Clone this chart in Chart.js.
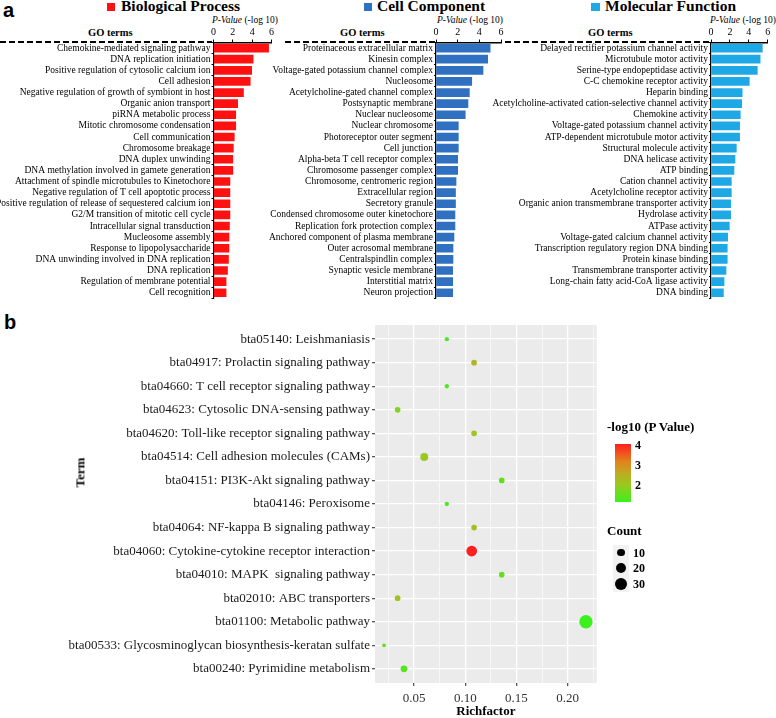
<!DOCTYPE html>
<html lang="en">
<head>
<meta charset="UTF-8">
<title>GO and KEGG enrichment</title>
<script src="https://cdn.jsdelivr.net/npm/chart.js"></script>
<style>
  body { margin:0; width:776px; height:718px; position:relative; background:#fff; overflow:hidden; font-family:"Liberation Serif", serif; color:#000; }
  canvas, .t, .sq, .dash, .bar, .key { position:absolute; }
  .t { white-space:nowrap; line-height:1; }
  .panel { font-family:"Liberation Sans", sans-serif; font-weight:bold; font-size:20px; }
  .head { font-weight:bold; font-size:15.5px; }
  .go { font-weight:bold; font-size:10.5px; }
  .pv { font-size:9.5px; }
  .dash { height:2px; background:repeating-linear-gradient(to right, #000 0 6px, transparent 6px 9px); }
  .leg { font-weight:bold; font-size:13px; }
  .legl { font-weight:bold; font-size:12px; }
  .key { background:#F2F2F2; width:16px; height:16px; }
</style>
</head>
<body>
<div class="t panel" style="left:3px;top:0px">a</div>
<div class="t panel" style="left:4px;top:312px">b</div>

<div class="sq" style="left:107px;top:3px;width:8px;height:8px;background:#FF1111"></div>
<div class="t head" style="left:121px;top:-2px">Biological Process</div>
<div class="sq" style="left:364px;top:3px;width:8px;height:8px;background:#3070C0"></div>
<div class="t head" style="left:377px;top:-2px">Cell Component</div>
<div class="sq" style="left:591px;top:3px;width:9px;height:8px;background:#1FA8E6"></div>
<div class="t head" style="left:605px;top:-2px">Molecular Function</div>

<div class="t go" style="left:88px;top:28px">GO terms</div>
<div class="t go" style="left:340px;top:28px">GO terms</div>
<div class="t go" style="left:588px;top:28px">GO terms</div>
<div class="t pv" style="left:212px;top:15.5px"><i>P-Value</i> (-log 10)</div>
<div class="t pv" style="left:437px;top:15.5px"><i>P-Value</i> (-log 10)</div>
<div class="t pv" style="left:710px;top:15.5px"><i>P-Value</i> (-log 10)</div>
<div class="dash" style="left:0px;top:41px;width:212px"></div>
<div class="dash" style="left:285px;top:41px;width:151px"></div>
<div class="dash" style="left:505px;top:41px;width:206px"></div>

<canvas id="bp" width="285" height="305" style="left:0px;top:0px"></canvas>
<canvas id="cc" width="285" height="305" style="left:230px;top:0px"></canvas>
<canvas id="mf" width="286" height="305" style="left:490px;top:0px"></canvas>

<canvas id="kegg" width="776" height="418" style="left:0px;top:300px"></canvas>
<div class="t leg" style="left:65px;top:466px;transform:rotate(-90deg)">Term</div>
<div class="t leg" style="left:607px;top:420px">-log10 (P Value)</div>
<div class="bar" id="cbar" style="left:615px;top:444px;width:16px;height:58px"></div>
<div class="t leg" style="left:607px;top:524px">Count</div>
<div id="legends"></div>

<script>
// GO enrichment (-log10 P value)
const bpTerms = ["Chemokine-mediated signaling pathway", "DNA replication initiation", "Positive regulation of cytosolic calcium ion",
  "Cell adhesion", "Negative regulation of growth of symbiont in host", "Organic anion transport", "piRNA metabolic process",
  "Mitotic chromosome condensation", "Cell communication", "Chromosome breakage", "DNA duplex unwinding",
  "DNA methylation involved in gamete generation", "Attachment of spindle microtubules to Kinetochore",
  "Negative regulation of T cell apoptotic process", "Positive regulation of release of sequestered calcium ion",
  "G2/M transition of mitotic cell cycle", "Intracellular signal transduction", "Mucleosome assembly",
  "Response to lipopolysaccharide", "DNA unwinding involved in DNA replication", "DNA replication",
  "Regulation of membrane potential", "Cell recognition"];
const bpValues = [5.7, 4.1, 3.95, 3.8, 3.1, 2.5, 2.3, 2.3, 2.15, 2.05, 2.0, 2.0, 1.7, 1.7, 1.7, 1.7, 1.65, 1.6, 1.6, 1.55, 1.45, 1.3, 1.3];

const ccTerms = ["Proteinaceous extracellular matrix", "Kinesin complex", "Voltage-gated potassium channel complex", "Nucleosome",
  "Acetylcholine-gated channel complex", "Postsynaptic membrane", "Nuclear nucleosome", "Nuclear chromosome",
  "Photoreceptor outer segment", "Cell junction", "Alpha-beta T cell receptor complex", "Chromosome passenger complex",
  "Chromosome, centromeric region", "Extracellular region", "Secretory granule", "Condensed chromosome outer kinetochore",
  "Replication fork protection complex", "Anchored component of plasma membrane", "Outer acrosomal membrane",
  "Centralspindlin complex", "Synaptic vesicle membrane", "Interstitial matrix", "Neuron projection"];
const ccValues = [5.0, 4.77, 4.34, 3.3, 3.08, 2.95, 2.7, 2.06, 2.06, 2.06, 2.0, 2.0, 1.85, 1.8, 1.8, 1.75, 1.75, 1.66, 1.57, 1.57, 1.54, 1.54, 1.54];

const mfTerms = ["Delayed rectifier potassium channel activity", "Microtubule motor activity", "Serine-type endopeptidase activity",
  "C-C chemokine receptor activity", "Heparin binding", "Acetylcholine-activated cation-selective channel activity",
  "Chemokine activity", "Voltage-gated potassium channel activity", "ATP-dependent microtubule motor activity",
  "Structural molecule activity", "DNA helicase activity", "ATP binding", "Cation channel activity",
  "Acetylcholine receptor activity", "Organic anion transmembrane transporter activity", "Hydrolase activity",
  "ATPase activity", "Voltage-gated calcium channel activity", "Transcription regulatory region DNA binding",
  "Protein kinase binding", "Transmembrane transporter activity", "Long-chain fatty acid-CoA ligase activity", "DNA binding"];
const mfValues = [5.43, 5.2, 4.9, 4.05, 3.3, 3.25, 3.1, 3.03, 3.03, 2.68, 2.54, 2.43, 2.15, 2.15, 2.08, 2.08, 1.94, 1.76, 1.72, 1.72, 1.59, 1.38, 1.31];

const goTicks = [0, 2, 4, 6];

// KEGG enrichment
const keggTerms = ["bta05140: Leishmaniasis", "bta04917: Prolactin signaling pathway", "bta04660: T cell receptor signaling pathway",
  "bta04623: Cytosolic DNA-sensing pathway", "bta04620: Toll-like receptor signaling pathway", "bta04514: Cell adhesion molecules (CAMs)",
  "bta04151: PI3K-Akt signaling pathway", "bta04146: Peroxisome", "bta04064: NF-kappa B signaling pathway",
  "bta04060: Cytokine-cytokine receptor interaction", "bta04010: MAPK  signaling pathway", "bta02010: ABC transporters",
  "bta01100: Metabolic pathway", "bta00533: Glycosminoglycan biosynthesis-keratan sulfate", "bta00240: Pyrimidine metabolism"];
const richFactor = [0.082, 0.1086, 0.082, 0.034, 0.1086, 0.060, 0.1356, 0.082, 0.1086, 0.1063, 0.1356, 0.034, 0.2178, 0.0207, 0.0402];
const geneCount = [2, 5, 2, 5, 5, 12, 5, 2, 5, 23, 5, 5, 37, 1, 8];
const logP = [1.3, 2.4, 1.3, 1.8, 2.1, 2.0, 1.5, 1.3, 2.2, 4.03, 1.55, 2.1, 1.15, 1.6, 1.4];
const xTickValues = [0.05, 0.10, 0.15, 0.20];
const pTicks = [2, 3, 4];
const countLegend = [10, 20, 30];

const pMin = Math.min(...logP), pMax = Math.max(...logP);
const colorStops = [[0, [60, 240, 30]], [0.3, [155, 200, 30]], [0.5, [190, 170, 35]], [0.7, [225, 130, 30]], [1, [255, 30, 30]]];
function pColor(v) {
  const t = Math.max(0, Math.min(1, (v - pMin) / (pMax - pMin)));
  for (let i = 1; i < colorStops.length; i++) {
    const [t1, c1] = colorStops[i];
    const [t0, c0] = colorStops[i - 1];
    if (t <= t1) {
      const f = (t - t0) / (t1 - t0);
      const c = c0.map((a, k) => Math.round(a + (c1[k] - a) * f));
      return `rgb(${c[0]},${c[1]},${c[2]})`;
    }
  }
}
const countRadius = c => Math.sqrt(2.4 + 1.13 * c);

const serif = "'Liberation Serif', serif";

function goChart(id, terms, values, color, zeroX, sixX) {
  const canvas = document.getElementById(id);
  return new Chart(canvas, {
    type: 'bar',
    data: { labels: terms, datasets: [{ data: values, backgroundColor: color, barThickness: 8 }] },
    options: {
      indexAxis: 'y', responsive: false, animation: false, devicePixelRatio: 1,
      layout: { padding: { top: 0, left: 0, right: canvas.width - sixX, bottom: canvas.height - 298.5 } },
      plugins: { legend: { display: false }, tooltip: { enabled: false } },
      scales: {
        x: {
          position: 'top', min: goTicks[0], max: goTicks[goTicks.length - 1],
          afterBuildTicks: s => { s.ticks = goTicks.map(v => ({ value: v })); },
          ticks: { font: { family: serif, size: 10 }, color: '#000', padding: 1, maxRotation: 0 },
          grid: { drawOnChartArea: false, tickLength: 3, color: '#000' },
          border: { color: '#000', width: 1.5 },
          afterFit: s => { s.height = 42.5; }
        },
        y: {
          ticks: { font: { family: serif, size: 9.5 }, color: '#000', padding: 1, autoSkip: false },
          grid: { drawOnChartArea: false, tickLength: 2, color: '#000' },
          border: { color: '#000', width: 1.2 },
          afterFit: s => { s.width = zeroX; }
        }
      }
    }
  });
}

goChart('bp', bpTerms, bpValues, '#FF1111', 213.5, 271.5);
goChart('cc', ccTerms, ccValues, '#3070C0', 206, 271);
goChart('mf', mfTerms, mfValues, '#1FA8E6', 221, 277.7);

// KEGG bubble chart
const isMajor = v => xTickValues.some(m => Math.abs(m - v) < 1e-6);
const halfStep = (xTickValues[1] - xTickValues[0]) / 2;
const xGrid = [xTickValues[0] - halfStep];
xTickValues.forEach(v => xGrid.push(v, v + halfStep));

const panelBg = {
  id: 'panelBg',
  beforeDraw(chart) {
    const { ctx, chartArea: a } = chart;
    ctx.save();
    ctx.fillStyle = '#EBEBEB';
    ctx.fillRect(a.left, a.top, a.right - a.left, a.bottom - a.top);
    ctx.restore();
  }
};

new Chart(document.getElementById('kegg'), {
  type: 'bubble',
  data: {
    datasets: [{
      data: keggTerms.map((t, i) => ({ x: richFactor[i], y: i, r: countRadius(geneCount[i]) })),
      backgroundColor: logP.map(pColor),
      borderWidth: 0
    }]
  },
  options: {
    responsive: false, animation: false, devicePixelRatio: 1,
    layout: { padding: { top: 25, right: 179.3, left: 0, bottom: 0 } },
    plugins: { legend: { display: false }, tooltip: { enabled: false } },
    scales: {
      x: {
        type: 'linear', min: 0.0119, max: 0.2283,
        afterBuildTicks: s => { s.ticks = xGrid.map(v => ({ value: v })); },
        ticks: {
          autoSkip: false, maxRotation: 0, padding: 5,
          callback: v => isMajor(v) ? v.toFixed(2) : '',
          font: { family: serif, size: 13 }, color: '#333'
        },
        grid: {
          color: '#fff',
          lineWidth: c => isMajor(c.tick.value) ? 1.3 : 0.6,
          tickColor: c => isMajor(c.tick.value) ? '#555' : 'rgba(0,0,0,0)',
          tickLength: 3
        },
        border: { display: false },
        title: { display: true, text: 'Richfactor', font: { family: serif, size: 13, weight: 'bold' }, color: '#000', padding: { top: 0, bottom: -1 } },
        afterFit: s => { s.height = 35; }
      },
      y: {
        type: 'linear', reverse: true, min: -0.6, max: keggTerms.length - 0.4,
        afterBuildTicks: s => { s.ticks = keggTerms.map((t, i) => ({ value: i })); },
        ticks: {
          autoSkip: false, padding: 2,
          callback: v => keggTerms[v],
          font: { family: serif, size: 13 }, color: '#1a1a1a'
        },
        grid: { color: '#fff', lineWidth: 1.3, tickColor: '#555', tickLength: 3 },
        border: { display: false },
        afterFit: s => { s.width = 375; }
      }
    }
  },
  plugins: [panelBg]
});

// legends
const cbar = document.getElementById('cbar');
const barTop = 444, barH = 58;
const stops = [];
for (let i = 0; i <= 20; i++) {
  const v = pMin + (pMax - pMin) * i / 20;
  stops.push(`${pColor(v)} ${i * 5}%`);
}
cbar.style.background = `linear-gradient(to top, ${stops.join(', ')})`;

const legends = document.getElementById('legends');
pTicks.forEach(v => {
  const y = barTop + barH - (v - pMin) / (pMax - pMin) * barH;
  const d = document.createElement('div');
  d.className = 't legl';
  d.textContent = v;
  d.style.left = '635px';
  d.style.top = (y - 6) + 'px';
  legends.appendChild(d);
});
countLegend.forEach((c, i) => {
  const cy = 552.7 + i * 15.7;
  const key = document.createElement('div');
  key.className = 'key';
  key.style.left = '613px';
  key.style.top = (cy - 8) + 'px';
  legends.appendChild(key);
  const r = countRadius(c);
  const dot = document.createElement('div');
  dot.style.cssText = `position:absolute;left:${621 - r}px;top:${cy - r}px;width:${2 * r}px;height:${2 * r}px;border-radius:50%;background:#000`;
  legends.appendChild(dot);
  const lab = document.createElement('div');
  lab.className = 't legl';
  lab.textContent = c;
  lab.style.left = '633px';
  lab.style.top = (cy - 6) + 'px';
  legends.appendChild(lab);
});
</script>
</body>
</html>
